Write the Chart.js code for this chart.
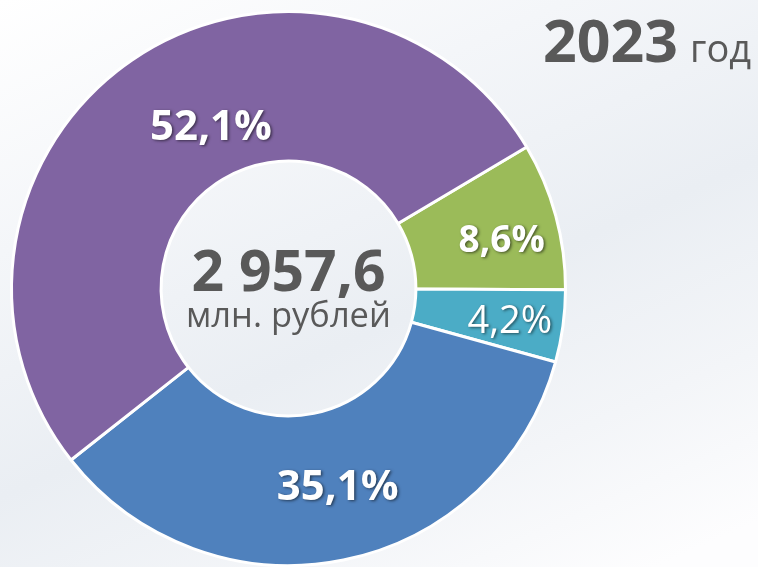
<!DOCTYPE html>
<html lang="ru">
<head>
<meta charset="utf-8">
<title>2023 год</title>
<script src="https://cdn.jsdelivr.net/npm/chart.js@4/dist/chart.umd.min.js"></script>
<style>
  html, body { margin: 0; padding: 0; }
  body {
    width: 758px; height: 567px; overflow: hidden;
    background: linear-gradient(156deg, #ffffff 0%, #f4f6f9 28%, #eaeef3 55%, #f3f5f8 76%, #fdfdfe 95%);
  }
  #wrap { position: relative; width: 758px; height: 567px; overflow: hidden; }
  canvas { position: absolute; left: 0; top: 0; }
</style>
</head>
<body>
<div id="wrap">
  <canvas id="chart" width="758" height="577"></canvas>
</div>
<script>
// Структура, %
const categories = ['Сегмент 1', 'Сегмент 2', 'Сегмент 3', 'Сегмент 4'];
const shares = [8.6, 4.2, 35.1, 52.1];
const shareLabels = ['8,6%', '4,2%', '35,1%', '52,1%'];
const sliceColors = ['#9BBB59', '#4BACC6', '#4F81BD', '#8064A2'];

const totalValue = '2 957,6';
const totalUnit = 'млн. рублей';
const yearText = '2023';
const yearSuffix = 'год';

const FONT = '"Open Sans", "DejaVu Sans", sans-serif';
const DARK = '#595959';

// Подписи долей и текст в центре
const labelsPlugin = {
  id: 'labelsPlugin',
  afterDatasetsDraw(chart, args, opts) {
    const ctx = chart.ctx;
    const meta = chart.getDatasetMeta(0);

    meta.data.forEach((arc, i) => {
      const pos = arc.tooltipPosition();
      const nudge = opts.nudge[i];
      ctx.save();
      ctx.font = opts.bold[i] ? `bold ${opts.size[i]}px ${FONT}` : `${opts.size[i]}px ${FONT}`;
      ctx.fillStyle = '#ffffff';
      ctx.textAlign = 'center';
      ctx.textBaseline = 'middle';
      ctx.shadowColor = 'rgba(0,0,0,0.55)';
      ctx.shadowBlur = 3;
      ctx.shadowOffsetX = 1.5;
      ctx.shadowOffsetY = 1.5;
      ctx.fillText(shareLabels[i], pos.x + nudge[0], pos.y + nudge[1]);
      ctx.restore();
    });

    const c = meta.data[0];
    ctx.save();
    ctx.fillStyle = DARK;
    ctx.textAlign = 'center';
    ctx.textBaseline = 'alphabetic';
    ctx.font = `bold 57px ${FONT}`;
    ctx.fillText(totalValue, c.x, c.y + 2);
    ctx.font = `34.5px ${FONT}`;
    ctx.fillText(totalUnit, c.x, c.y + 38);

    // заголовок справа вверху
    ctx.textAlign = 'left';
    ctx.font = `bold 59px ${FONT}`;
    ctx.fillText(yearText, 543, 62);
    ctx.font = `38px ${FONT}`;
    ctx.fillText(yearSuffix, 690, 62);
    ctx.restore();
  }
};

new Chart(document.getElementById('chart'), {
  type: 'doughnut',
  data: {
    labels: categories,
    datasets: [{
      data: shares,
      backgroundColor: sliceColors,
      borderColor: '#ffffff',
      borderWidth: 3,
      hoverOffset: 0
    }]
  },
  options: {
    responsive: false,
    animation: false,
    cutout: '46%',
    rotation: 59.3,
    layout: { padding: { left: 10, top: 10, right: 191, bottom: 10 } },
    plugins: {
      legend: { display: false },
      tooltip: { enabled: false },
      labelsPlugin: {
        size: [37, 38, 42, 42],
        bold: [true, false, true, true],
        nudge: [[18, 6], [21, 6], [9, 1], [37, 6]]
      }
    }
  },
  plugins: [labelsPlugin]
});
</script>
</body>
</html>
